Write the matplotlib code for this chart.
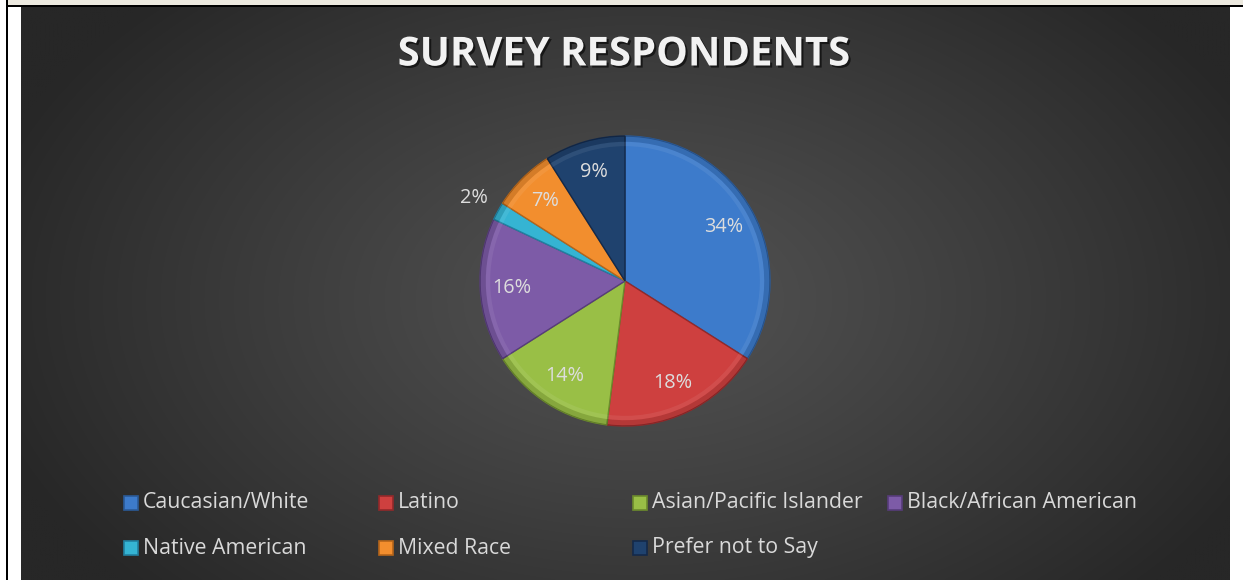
import numpy as np
import matplotlib
matplotlib.use('Agg')
import matplotlib.pyplot as plt
import matplotlib.patheffects as pe
from matplotlib.patches import Rectangle, Wedge

plt.rcParams['font.family'] = ['Open Sans', 'DejaVu Sans']

# survey data (percent of respondents)
groups = ['Caucasian/White', 'Latino', 'Asian/Pacific Islander',
          'Black/African American', 'Native American', 'Mixed Race',
          'Prefer not to Say']
shares = [34, 18, 14, 16, 2, 7, 9]
colors = ['#3D7BCB', '#CE403F', '#99BF46', '#7D5BA7', '#35B4D3', '#F28E2E', '#1F426E']
edges = ['#2A5A98', '#93292A', '#6C8B2C', '#573C7B', '#2180A0', '#B5651A', '#13294A']

W, H = 1243, 580
fig = plt.figure(figsize=(W / 100, H / 100), dpi=100, facecolor='white')

def fx(x):
    return x / W

def fy(y):
    return 1 - y / H

# frame bits around the chart
fig.add_artist(Rectangle((fx(8), fy(5)), fx(W - 8), 5 / H, transform=fig.transFigure,
                         facecolor='#ECE9DF', edgecolor='none'))
fig.add_artist(Rectangle((fx(6), fy(7)), fx(W - 6), 2 / H, transform=fig.transFigure,
                         facecolor='black', edgecolor='none'))
fig.add_artist(Rectangle((fx(6), 0), 2 / W, 1, transform=fig.transFigure,
                         facecolor='black', edgecolor='none'))

# dark radial background
bg = fig.add_axes([fx(21), 0, (1230 - 21) / W, (H - 7) / H])
bg.set_axis_off()
xx, yy = np.meshgrid(np.linspace(21, 1230, 600), np.linspace(7, 580, 300))
d = np.sqrt(((xx - 640) / 680) ** 2 + ((yy - 300) / 430) ** 2)
d = np.clip(d, 0, 1)
shade = (0x53 - (0x53 - 0x27) * d ** 1.1) / 255
bg.imshow(np.dstack([shade, shade, shade]), extent=[0, 1, 0, 1], aspect='auto',
          interpolation='bilinear')
bg.set_xlim(0, 1)
bg.set_ylim(0, 1)

# title
fig.text(fx(624), fy(55), 'SURVEY RESPONDENTS', ha='center', va='center',
         fontsize=28.8, fontweight='bold', color='#F2F2F2',
         path_effects=[pe.SimplePatchShadow(offset=(1.5, -1.5), shadow_rgbFace='black', alpha=0.6),
                       pe.Normal()])

# pie
cx, cy, r = 625, 281, 145
ax = fig.add_axes([fx(cx - r), (H - cy - r) / H, 2 * r / W, 2 * r / H])
wedges, texts, autotexts = ax.pie(shares, colors=colors, startangle=90, counterclock=False,
                                  autopct='%1.0f%%', pctdistance=0.78,
                                  wedgeprops=dict(linewidth=1.0),
                                  textprops=dict(color='#DDDDDD', fontsize=14.3))
for w, ec in zip(wedges, edges):
    w.set_edgecolor(ec)
    # bevel look: darker rim and light inner edge
    ax.add_patch(Wedge((0, 0), 1.0, w.theta1, w.theta2, width=0.04,
                       facecolor='black', alpha=0.12, edgecolor='none'))
    ax.add_patch(Wedge((0, 0), 0.96, w.theta1, w.theta2, width=0.03,
                       facecolor='white', alpha=0.07, edgecolor='none'))
# small slice label sits outside
a = np.deg2rad((wedges[4].theta1 + wedges[4].theta2) / 2)
autotexts[4].set_position((1.19 * np.cos(a), 1.19 * np.sin(a)))
ax.set_xlim(-1, 1)
ax.set_ylim(-1, 1)
ax.set_aspect('equal')

# legend
marker_x = [124, 379, 633, 888]
row_y = [503, 548]
for i, (g, c, ec) in enumerate(zip(groups, colors, edges)):
    col, row = i % 4, i // 4
    x0, y0 = marker_x[col], row_y[row]
    fig.add_artist(Rectangle((fx(x0), fy(y0 + 7)), 14 / W, 14 / H, transform=fig.transFigure,
                             facecolor=c, edgecolor=ec, linewidth=1.2))
    fig.text(fx(x0 + 19), fy(y0), g, ha='left', va='center', fontsize=15.3, color='#D9D9D9')

fig.savefig('out.png', dpi=100, facecolor='white')
